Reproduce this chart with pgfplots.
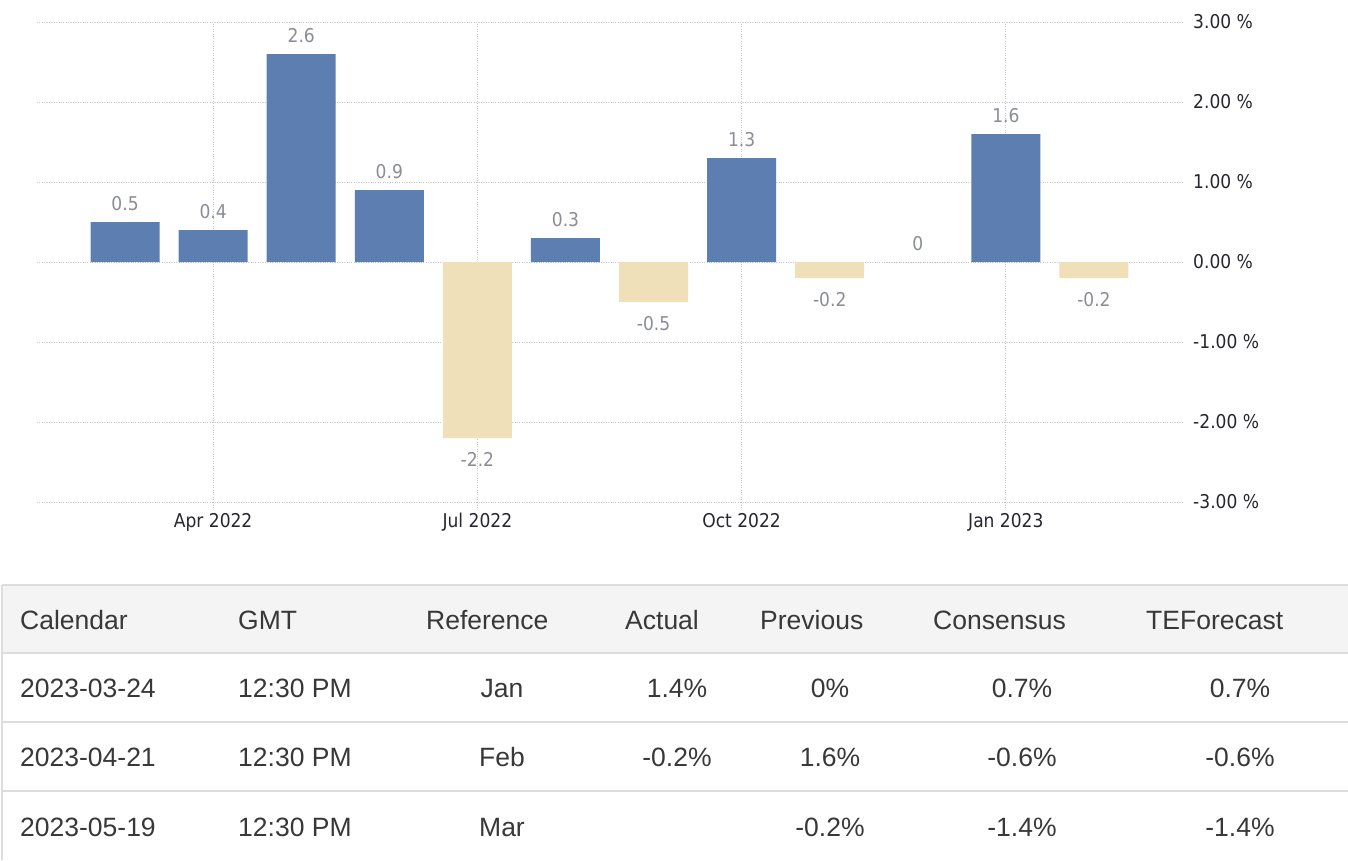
\documentclass[border=0pt]{standalone}
\usepackage{pgfplots}
\usepackage{pgfplotstable}
\pgfplotsset{compat=1.18}
\usepackage{fontspec}
\setmainfont{Liberation Sans}
\newfontfamily\chartfont{DejaVu Sans Condensed}
\definecolor{barblue}{HTML}{5D7EB0}
\definecolor{barbeige}{HTML}{F0E0BA}
\definecolor{vallab}{HTML}{8A8C98}
\definecolor{ticklab}{HTML}{262630}
\definecolor{gridc}{HTML}{C8C8C8}
\definecolor{tabline}{HTML}{DDDDDD}
\definecolor{tabhead}{HTML}{F4F4F4}
\definecolor{tabtext}{HTML}{383838}

\pgfplotstableread{
x y lab
0 0.5 0.5
1 0.4 0.4
2 2.6 2.6
3 0.9 0.9
5 0.3 0.3
7 1.3 1.3
9 0 0
10 1.6 1.6
}\posdata
\pgfplotstableread{
x y lab
4 -2.2 -2.2
6 -0.5 -0.5
8 -0.2 -0.2
11 -0.2 -0.2
}\negdata

\newcommand{\cf}{\chartfont\fontsize{19}{22}\selectfont}
\newcommand{\tf}{\fontsize{26.5}{30}\selectfont}

\begin{document}
\begin{tikzpicture}[x=1pt,y=1pt]
\useasboundingbox (0,0) rectangle (1348,860);
\begin{axis}[
  at={(37pt,358pt)}, anchor=south west,
  width=1145pt, height=480pt, scale only axis,
  xmin=-1, xmax=12, ymin=-3, ymax=3,
  clip=false,
  axis line style={draw=none},
  xtick={1,4,7,10},
  xticklabels={Apr 2022,Jul 2022,Oct 2022,Jan 2023},
  ytick={-3,-2,-1,0,1,2,3},
  yticklabels={-3.00 \%,-2.00 \%,-1.00 \%,0.00 \%,1.00 \%,2.00 \%,3.00 \%},
  yticklabel pos=right,
  xtick pos=bottom,
  xmajorgrids, ymajorgrids,
  grid style={gridc, dotted, line width=1pt},
  xtick style={gridc, dotted, line width=1pt},
  ytick style={draw=none},
  major tick length=5pt,
  tick align=outside,
  tick label style={font=\cf, text=ticklab},
  yticklabel style={anchor=west, inner sep=0pt, xshift=6pt},
  xticklabel style={anchor=north, inner sep=0pt, yshift=-6pt},
]
\addplot[ybar, bar width=69pt, bar shift=0pt, fill=barblue, draw=none,
  point meta=explicit symbolic,
  nodes near coords,
  every node near coord/.style={font=\cf, text=vallab, anchor=south, yshift=8pt}]
  table[x=x, y=y, meta=lab] {\posdata};
\addplot[ybar, bar width=69pt, bar shift=0pt, fill=barbeige, draw=none,
  point meta=explicit symbolic,
  nodes near coords,
  every node near coord/.style={font=\cf, text=vallab, anchor=north, yshift=-10.5pt}]
  table[x=x, y=y, meta=lab] {\negdata};
\end{axis}

% table
\fill[tabhead] (2,207) rectangle (1348,275);
\draw[tabline, line width=2pt] (2,275) -- (1348,275);
\draw[tabline, line width=2pt] (2,207) -- (1348,207);
\draw[tabline, line width=2pt] (2,138) -- (1348,138);
\draw[tabline, line width=2pt] (2,69) -- (1348,69);
\draw[tabline, line width=2pt] (2,0) -- (2,275);

\tikzset{tt/.style={font=\tf, text=tabtext, inner sep=0pt, text height=0.72em, text depth=0pt}}
% header
\node[tt, anchor=west] at (20,234) {Calendar};
\node[tt, anchor=west] at (238,234) {GMT};
\node[tt, anchor=west] at (426,234) {Reference};
\node[tt, anchor=west] at (625,234) {Actual};
\node[tt, anchor=west] at (760,234) {Previous};
\node[tt, anchor=west] at (933,234) {Consensus};
\node[tt, anchor=west] at (1146,234) {TEForecast};
% row 1
\node[tt, anchor=west] at (20,166) {2023-03-24};
\node[tt, anchor=west] at (238,166) {12:30 PM};
\node[tt] at (502,166) {Jan};
\node[tt] at (677,166) {1.4\%};
\node[tt] at (830,166) {0\%};
\node[tt] at (1022,166) {0.7\%};
\node[tt] at (1240,166) {0.7\%};
% row 2
\node[tt, anchor=west] at (20,97) {2023-04-21};
\node[tt, anchor=west] at (238,97) {12:30 PM};
\node[tt] at (502,97) {Feb};
\node[tt] at (677,97) {-0.2\%};
\node[tt] at (830,97) {1.6\%};
\node[tt] at (1022,97) {-0.6\%};
\node[tt] at (1240,97) {-0.6\%};
% row 3
\node[tt, anchor=west] at (20,27) {2023-05-19};
\node[tt, anchor=west] at (238,27) {12:30 PM};
\node[tt] at (502,27) {Mar};
\node[tt] at (830,27) {-0.2\%};
\node[tt] at (1022,27) {-1.4\%};
\node[tt] at (1240,27) {-1.4\%};
\end{tikzpicture}
\end{document}
